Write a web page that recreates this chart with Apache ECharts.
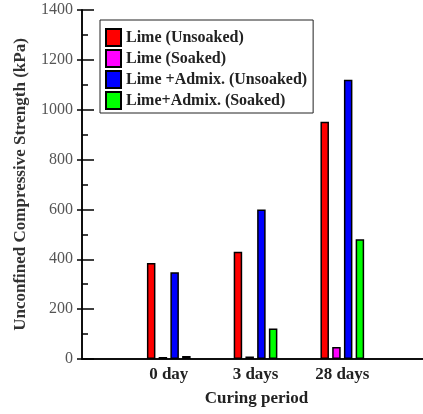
<!DOCTYPE html>
<html><head><meta charset="utf-8">
<script src="https://cdn.jsdelivr.net/npm/echarts@6/dist/echarts.min.js"></script>
<style>html,body{margin:0;padding:0;background:#fff}#c{width:423px;height:414px}</style>
</head><body><div id="c"></div>
<script>
const categories = ['0 day', '3 days', '28 days'];
const seriesNames = ['Lime (Unsoaked)', 'Lime (Soaked)', 'Lime +Admix. (Unsoaked)', 'Lime+Admix. (Soaked)'];
const limeUnsoaked = [385, 430, 952];
const limeSoaked = [8, 10, 48];
const admixUnsoaked = [348, 600, 1120];
const admixSoaked = [12, 122, 480];
const seriesColors = ['#ff0000', '#ff00ff', '#0000ff', '#00ff00'];
const yMin = 0, yMax = 1400, yStep = 200;

const allValues = [limeUnsoaked, limeSoaked, admixUnsoaked, admixSoaked];
const FONT = '"Liberation Serif", "Times New Roman", serif';

const chart = echarts.init(document.getElementById('c'), null, {renderer: 'canvas'});
const xMax = 3.93;
chart.setOption({
  animation: false,
  backgroundColor: '#fff',
  grid: {left: 82, right: -1, top: 10, bottom: 55, containLabel: false},
  legend: {
    orient: 'vertical', left: 100, top: 20,
    data: seriesNames,
    icon: 'rect', itemWidth: 15, itemHeight: 17, itemGap: 2,
    padding: [8, 6, 3, 5],
    borderColor: '#222', borderWidth: 1,
    textStyle: {fontFamily: FONT, fontWeight: 'bold', fontSize: 16, color: '#222', lineHeight: 17}
  },
  xAxis: [{
    type: 'value', min: 0, max: xMax, interval: 1, position: 'bottom',
    axisLine: {show: true, lineStyle: {color: '#000', width: 1.5}},
    axisTick: {show: false}, splitLine: {show: false},
    axisLabel: {
      margin: 7, fontFamily: FONT, fontWeight: 'bold', fontSize: 17, color: '#222',
      formatter: v => categories[Math.round(v) - 1] || '', showMaxLabel: false
    },
    name: 'Curing period', nameLocation: 'middle', nameGap: 31,
    nameTextStyle: {fontFamily: FONT, fontWeight: 'bold', fontSize: 17, color: '#222', padding: [0, 0, 0, 8]}
  }, {
    type: 'value', min: 0, max: xMax, position: 'top',
    axisLine: {show: true, lineStyle: {color: '#000', width: 1.5}},
    axisTick: {show: false}, axisLabel: {show: false}, splitLine: {show: false}
  }],
  yAxis: [{
    type: 'value', min: yMin, max: yMax, interval: yStep, position: 'left',
    axisLine: {show: true, lineStyle: {color: '#000', width: 1.5}},
    axisTick: {show: true, inside: true, length: 12, lineStyle: {color: '#000', width: 1.5}},
    minorTick: {show: true, splitNumber: 2, length: 6, lineStyle: {color: '#000', width: 1.5}},
    splitLine: {show: false},
    axisLabel: {margin: 9, fontFamily: FONT, fontSize: 16, color: '#555', formatter: v => String(v)},
    name: 'Unconfined Compressive Strength (kPa)', nameLocation: 'middle', nameGap: 53,
    nameTextStyle: {fontFamily: FONT, fontWeight: 'bold', fontSize: 17, color: '#333'}
  }, {
    type: 'value', min: yMin, max: yMax, interval: yStep, position: 'right',
    axisLine: {show: true, lineStyle: {color: '#000', width: 1.5}},
    axisTick: {show: true, inside: true, length: 5, lineStyle: {color: '#000', width: 1.5}},
    axisLabel: {show: false}, splitLine: {show: false}
  }],
  series: seriesNames.map((name, s) => ({
    name, type: 'bar', xAxisIndex: 0, yAxisIndex: 0,
    barWidth: 8.5, barGap: '38%',
    itemStyle: {color: seriesColors[s], borderColor: '#000', borderWidth: 1.5},
    data: categories.map((c, i) => [i + 1, allValues[s][i]])
  }))
});
</script></body></html>
